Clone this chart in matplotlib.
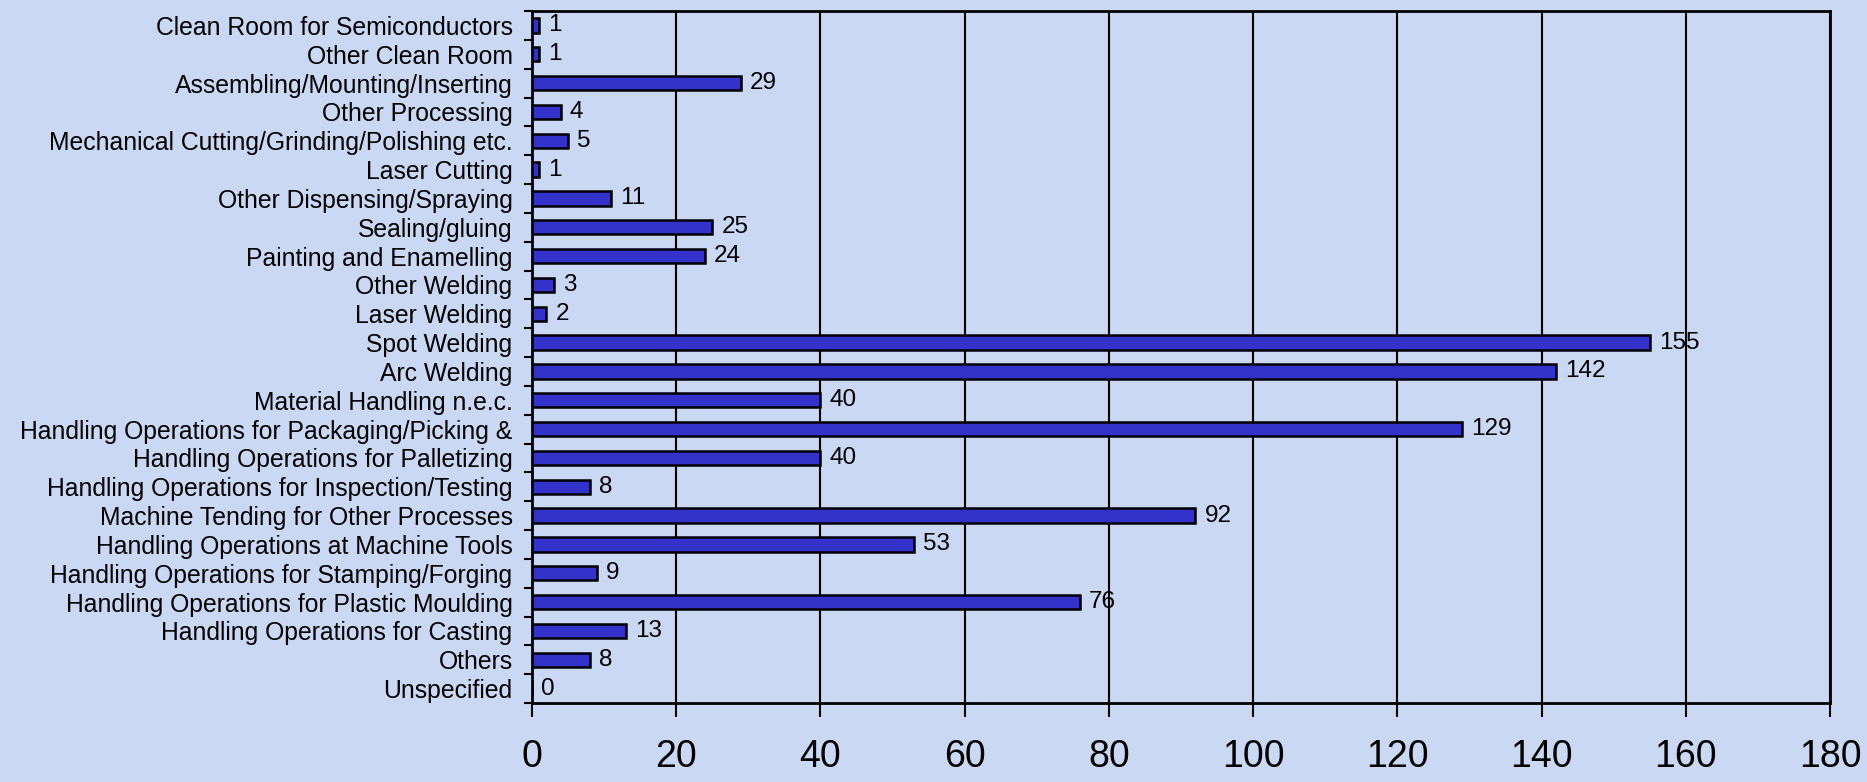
import matplotlib
matplotlib.use("Agg")
import matplotlib.pyplot as plt
import numpy as np

# categories listed top to bottom as in the chart
categories = [
    "Clean Room for Semiconductors",
    "Other Clean Room",
    "Assembling/Mounting/Inserting",
    "Other Processing",
    "Mechanical Cutting/Grinding/Polishing etc.",
    "Laser Cutting",
    "Other Dispensing/Spraying",
    "Sealing/gluing",
    "Painting and Enamelling",
    "Other Welding",
    "Laser Welding",
    "Spot Welding",
    "Arc Welding",
    "Material Handling n.e.c.",
    "Handling Operations for Packaging/Picking &",
    "Handling Operations for Palletizing",
    "Handling Operations for Inspection/Testing",
    "Machine Tending for Other Processes",
    "Handling Operations at Machine Tools",
    "Handling Operations for Stamping/Forging",
    "Handling Operations for Plastic Moulding",
    "Handling Operations for Casting",
    "Others",
    "Unspecified",
]
values = [1, 1, 29, 4, 5, 1, 11, 25, 24, 3, 2, 155, 142, 40,
          129, 40, 8, 92, 53, 9, 76, 13, 8, 0]
x_ticks = [0, 20, 40, 60, 80, 100, 120, 140, 160, 180]

plt.rcParams['font.family'] = ['Liberation Sans', 'DejaVu Sans']

bg = '#CAD8F4'
fig = plt.figure(figsize=(18.67, 7.82), dpi=100, facecolor=bg)
ax = fig.add_axes([532 / 1867, 1 - 703 / 782, (1830 - 532) / 1867, (703 - 11) / 782])
ax.set_facecolor(bg)

n = len(categories)
y = np.arange(n)
ax.barh(y, values, height=0.5, color='#3333CC', edgecolor='black', linewidth=1.8, zorder=3)

for yi, v in zip(y, values):
    ax.annotate(str(v), (v, yi), xytext=(9, 0), textcoords='offset pixels',
                va='center', ha='left', fontsize=17.5, color='black', zorder=4)

ax.set_xlim(0, 180)
ax.set_ylim(n - 0.5, -0.5)
ax.set_xticks(x_ticks)
ax.set_xticklabels([str(t) for t in x_ticks], fontsize=27)

# labels centred on bars, tick marks at category boundaries
ax.set_yticks(y)
ax.set_yticklabels(categories, fontsize=17.8)
ax.tick_params(axis='y', which='major', length=0, pad=14)
ax.set_yticks(np.arange(n + 1) - 0.5, minor=True)
ax.tick_params(axis='y', which='minor', length=6, width=1.5, direction='out')
ax.tick_params(axis='x', length=10, width=1.5, direction='out', pad=16)

ax.grid(axis='x', color='black', linewidth=1.5, zorder=1)
for s in ax.spines.values():
    s.set_linewidth(2)
    s.set_color('black')

fig.savefig('out.png', dpi=100, facecolor=bg)
